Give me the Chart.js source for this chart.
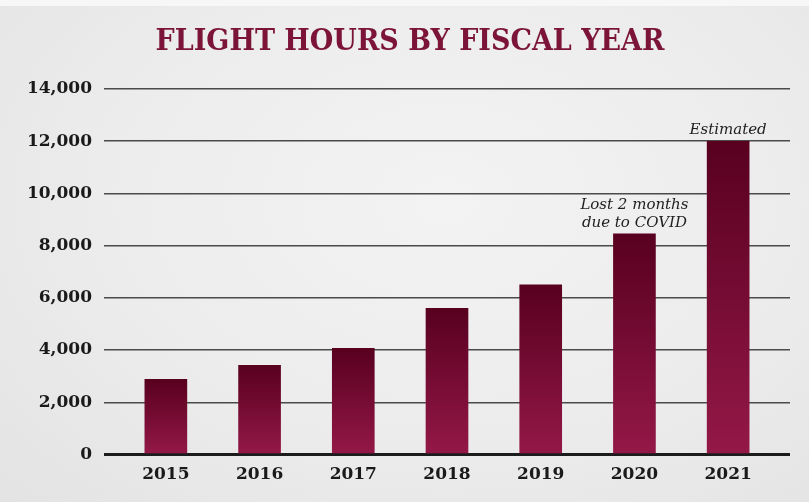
<!DOCTYPE html>
<html>
<head>
<meta charset="utf-8">
<script src="https://cdn.jsdelivr.net/npm/chart.js@4"></script>
<style>
  html, body { margin: 0; padding: 0; }
  body {
    width: 809px; height: 502px; overflow: hidden;
    background: radial-gradient(ellipse at 55% 40%, #f3f3f3 0%, #ececec 55%, #e3e3e3 100%);
  }
  #wrap { position: absolute; left: 0; top: 0; width: 809px; height: 502px; }
  .topband { position: absolute; left: 0; top: 0; width: 809px; height: 6px; background: #f7f7f7; }
</style>
</head>
<body>
<div class="topband"></div>
<div id="wrap"><canvas id="myChart" width="809" height="502"></canvas></div>
<script>
// data
var years = ['2015', '2016', '2017', '2018', '2019', '2020', '2021'];
var hours = [2880, 3420, 4070, 5600, 6500, 8450, 12000];
var yTicks = [0, 2000, 4000, 6000, 8000, 10000, 12000, 14000];
var notes = {
  5: ['Lost 2 months', 'due to COVID'],
  6: ['Estimated']
};

var titleText = 'FLIGHT HOURS BY FISCAL YEAR';

// bar gradient, each bar dark at top and lighter at bottom
function barColor(ctx) {
  var chart = ctx.chart;
  var area = chart.chartArea;
  if (!area || !ctx.parsed) return '#7a1438';
  var y = chart.scales.y;
  var top = y.getPixelForValue(ctx.parsed.y);
  var bottom = y.getPixelForValue(0);
  var g = chart.ctx.createLinearGradient(0, top, 0, bottom);
  g.addColorStop(0, '#58001f');
  g.addColorStop(1, '#941847');
  return g;
}

var titlePlugin = {
  id: 'titleAndNotes',
  afterDraw: function (chart) {
    var c = chart.ctx;
    c.save();
    c.fillStyle = '#7b1438';
    c.font = 'bold 30px "DejaVu Serif Condensed", "DejaVu Serif", serif';
    c.textAlign = 'center';
    c.textBaseline = 'alphabetic';
    c.fillText(titleText, 410, 50);

    var meta = chart.getDatasetMeta(0);
    c.fillStyle = '#1e1e1e';
    c.font = 'italic 15px "DejaVu Serif", serif';
    Object.keys(notes).forEach(function (k) {
      var bar = meta.data[k];
      var lines = notes[k];
      var base = bar.y - 7;
      for (var i = lines.length - 1; i >= 0; i--) {
        c.fillText(lines[i], bar.x, base);
        base -= 18;
      }
    });
    c.restore();
  }
};

var ctx = document.getElementById('myChart');
var chart = new Chart(ctx, {
  type: 'bar',
  data: {
    datasets: [{
      label: 'Flight hours',
      data: years.map(function (y, i) { return { x: i, y: hours[i] }; }),
      backgroundColor: barColor,
      barThickness: 42,
      borderWidth: 0
    }]
  },
  options: {
    responsive: false,
    animation: false,
    layout: { padding: { top: 89, right: 19, left: 0, bottom: 0 } },
    plugins: {
      legend: { display: false },
      tooltip: { enabled: false },
      title: { display: false }
    },
    scales: {
      x: {
        type: 'linear',
        offset: false,
        min: -0.66,
        max: 6.66,
        grid: { display: false, drawTicks: false },
        border: { display: false },
        afterBuildTicks: function (scale) {
          scale.ticks = years.map(function (y, i) { return { value: i }; });
        },
        afterFit: function (scale) { scale.height = 47.5; },
        ticks: {
          autoSkip: false,
          maxRotation: 0,
          padding: 10,
          color: '#1a1a1a',
          font: { family: '"DejaVu Serif"', weight: 'bold', size: 17 },
          callback: function (v) { return years[v]; }
        }
      },
      y: {
        min: 0,
        max: 14000,
        afterBuildTicks: function (scale) {
          scale.ticks = yTicks.map(function (v) { return { value: v }; });
        },
        afterFit: function (scale) { scale.width = 104; },
        border: { display: false },
        grid: {
          drawTicks: false,
          color: function (c) { return c.tick && c.tick.value === 0 ? '#1c1c1c' : '#4a4a4a'; },
          lineWidth: function (c) { return c.tick && c.tick.value === 0 ? 3 : 1.5; }
        },
        ticks: {
          padding: 12,
          color: '#1a1a1a',
          font: { family: '"DejaVu Serif"', weight: 'bold', size: 17 },
          callback: function (v) { return v.toLocaleString('en-US'); }
        }
      }
    }
  },
  plugins: [titlePlugin]
});
</script>
</body>
</html>
